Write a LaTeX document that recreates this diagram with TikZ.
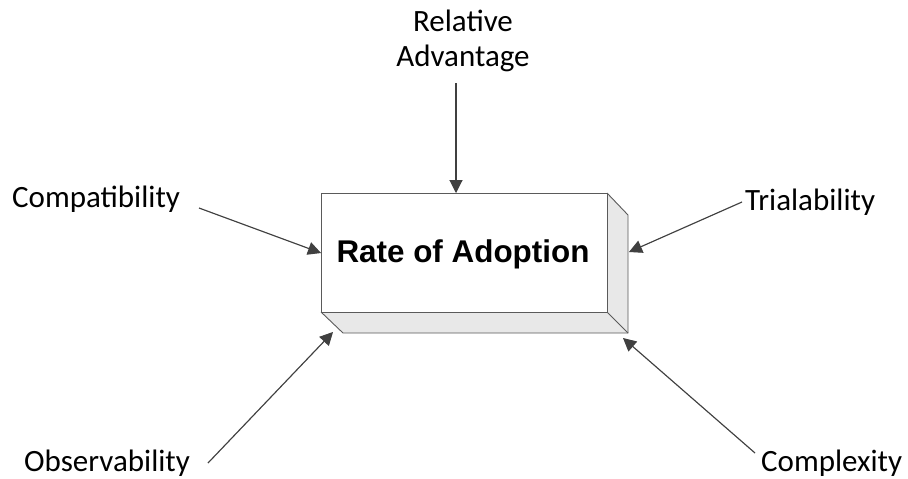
\documentclass[tikz,border=0pt]{standalone}
\usepackage{fontspec}
\setmainfont{Carlito}
\newfontfamily\boxfont{Liberation Sans}
\usetikzlibrary{arrows.meta}
\definecolor{linegray}{HTML}{404040}
\definecolor{edgegray}{HTML}{5A5A5A}
\definecolor{sidegray}{HTML}{E8E8E8}
\definecolor{shadowgray}{HTML}{DADADA}
\begin{document}
\begin{tikzpicture}[x=1pt,y=-1pt,
  factor/.style={font=\fontsize{31}{35}\selectfont, inner sep=0pt, align=center},
  feed/.style={draw=linegray, line width=1.1pt, -{Triangle[length=13pt,width=13pt]}},
  feedshadow/.style={draw=shadowgray, line width=1.1pt, -{Triangle[length=13pt,width=13pt]}, shift={(3.5,4)}},
  face/.style={draw=edgegray, line width=0.9pt, line join=miter}]
\useasboundingbox (0,0) rectangle (908,479);

% 3D block: front face with right and bottom depth faces
\coordinate (ftl) at (321,193);
\coordinate (ftr) at (607,193);
\coordinate (fbr) at (607,312);
\coordinate (fbl) at (321,312);
\coordinate (btr) at (628,215);
\coordinate (bbr) at (628,333);
\coordinate (bbl) at (343,333);
\fill[sidegray] (ftr) -- (btr) -- (bbr) -- (fbr) -- cycle;
\fill[sidegray] (fbl) -- (fbr) -- (bbr) -- (bbl) -- cycle;
\draw[face] (ftr) -- (btr) -- (bbr) -- (bbl) -- (fbl);
\draw[face] (fbr) -- (bbr);
\draw[face, fill=white] (ftl) rectangle (fbr);
\node[font=\boxfont\bfseries\fontsize{31.4}{37}\selectfont, anchor=base] (rate) at (463,262) {Rate of Adoption};

% factor labels
\node[factor] (rel) at (463,41) {Relative\\Advantage};
\node[factor, anchor=base west] (comp) at (12,207) {Compatibility};
\node[factor, anchor=base west] (trial) at (745,210) {Trialability};
\node[factor, anchor=base west] (obs) at (24,471) {Observability};
\node[factor, anchor=base west] (cplx) at (761,471) {Complexity};

% arrow end points
\coordinate (relS) at (456,83);   \coordinate (relT) at (456,193);
\coordinate (compS) at (199,208); \coordinate (compT) at (321,253);
\coordinate (trialS) at (742,202);\coordinate (trialT) at (629,252);
\coordinate (obsS) at (208,463);  \coordinate (obsT) at (333,332);
\coordinate (cplxS) at (755,453); \coordinate (cplxT) at (623,338);

% shadows first, then the arrows on top
\foreach \a in {rel,comp,trial,obs,cplx}{
  \draw[feedshadow] (\a S) -- (\a T);
}
\foreach \a in {rel,comp,trial,obs,cplx}{
  \draw[feed] (\a S) -- (\a T);
}
\end{tikzpicture}
\end{document}
